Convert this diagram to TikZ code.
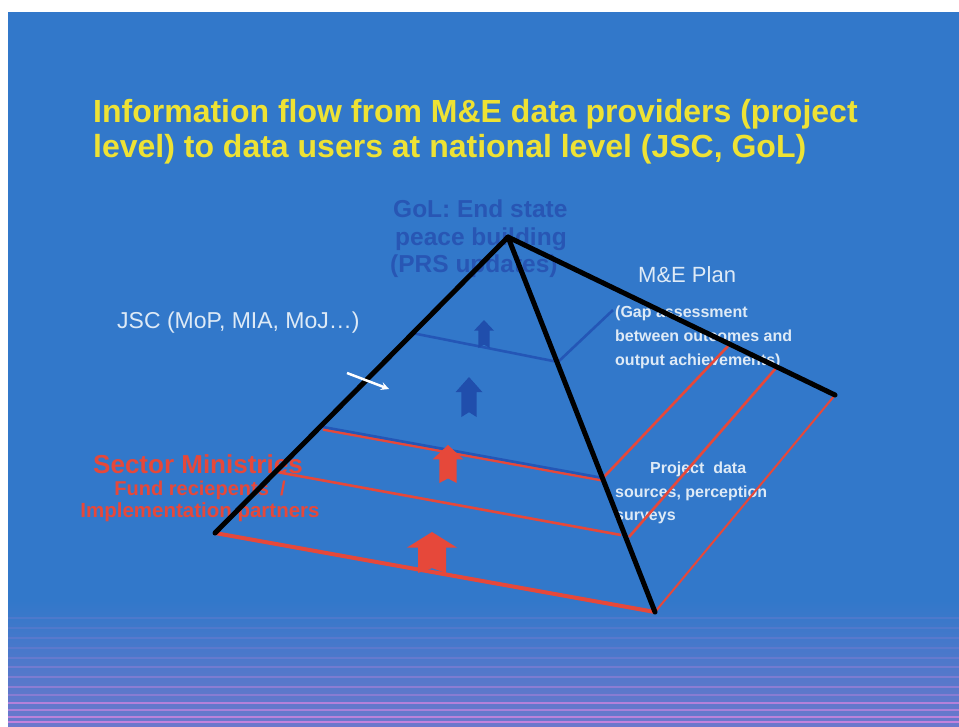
\documentclass[tikz,border=0pt]{standalone}
\usepackage{fontspec}
\setmainfont{Liberation Sans}
\usetikzlibrary{arrows}

\definecolor{slideblue}{RGB}{50,120,202}
\definecolor{slidelow}{RGB}{108,120,204}
\definecolor{stripepink}{RGB}{216,134,224}
\definecolor{lineblue}{RGB}{36,86,182}
\definecolor{arrowblue}{RGB}{32,78,172}
\definecolor{levelred}{RGB}{230,72,58}
\definecolor{titleyellow}{RGB}{238,226,52}
\definecolor{paletext}{RGB}{222,234,246}
\definecolor{goltext}{RGB}{40,86,180}

\tikzset{uparrow/.pic={\fill (-0.28,0) -- (-0.28,-0.62) -- (-0.5,-0.62) -- (0,-1) -- (0.5,-0.62) -- (0.28,-0.62) -- (0.28,0) -- (0,-0.12) -- cycle;}}

\begin{document}
\begin{tikzpicture}[x=1pt,y=-1pt]
\tikzstyle{txt}=[inner sep=0pt,anchor=base west]
\tikzstyle{titletxt}=[txt,titleyellow,font=\bfseries\fontsize{32}{35}\selectfont]
\tikzstyle{goltxt}=[txt,goltext,font=\bfseries\fontsize{24.5}{27}\selectfont]
\tikzstyle{smalltxt}=[txt,paletext,font=\bfseries\fontsize{16}{20}\selectfont]
\tikzstyle{redtxt}=[inner sep=0pt,anchor=base,levelred]
\tikzstyle{edge}=[line width=5pt,black,line cap=round,line join=round]
\tikzstyle{redlevel}=[line width=2.6pt,levelred]
\tikzstyle{bluelevel}=[line width=2.6pt,lineblue]

\useasboundingbox (0,0) rectangle (959,726);
\fill[white] (0,0) rectangle (959,726);
\fill[slideblue] (8,12) rectangle (959,726);
\shade[top color=slideblue,bottom color=slidelow] (8,600) rectangle (959,726);
\foreach \y/\o in {618/.12,628/.12,638/.14,648/.14,658/.18,667/.25,677/.3,687/.4,695/.35,703/.7,710/.6,717/.75,722/.8}
  \draw[stripepink,line width=2pt,opacity=\o] (8,\y)--(959,\y);

% texts
\draw
node[titletxt](t1)at(93,122){Information flow from M\&E data providers (project}
node[titletxt](t2)at(93,157){level) to data users at national level (JSC, GoL)}
node[goltxt](g1)at(393,217){GoL: End state}
node[goltxt](g2)at(395,245){peace building}
node[goltxt](g3)at(390,272){(PRS updates)}
node[txt,paletext,font=\fontsize{22}{24}\selectfont](mep)at(638,282){M\&E Plan}
node[smalltxt](gap1)at(615,317){(Gap assessment}
node[smalltxt](gap2)at(615,341){between outcomes and}
node[smalltxt](gap3)at(615,365){output achievements)}
node[txt,paletext,font=\fontsize{23}{25}\selectfont](jsc)at(117,328){JSC (MoP, MIA, MoJ\dots)}
node[redtxt,font=\bfseries\fontsize{26}{28}\selectfont](sm)at(198,473){Sector Ministries}
node[redtxt,font=\bfseries\fontsize{20}{22}\selectfont](fr)at(200,495){Fund reciepents\ \ /}
node[redtxt,font=\bfseries\fontsize{20.5}{22}\selectfont](ip)at(200,517){Implementation partners}
node[smalltxt](pd1)at(650,473){Project\ \ data}
node[smalltxt](pd2)at(615,497){sources, perception}
node[smalltxt](pd3)at(615,520){surveys};

% pyramid
\coordinate (apex) at (508,237);
\coordinate (lc) at (215,533);
\coordinate (fc) at (655,612);
\coordinate (bc) at (835,395);
\coordinate (l1l) at (277,472);
\coordinate (l1f) at (621,535);
\coordinate (l1s) at (629,537);
\coordinate (l1r) at (776,368);
\coordinate (l2l) at (323,427);
\coordinate (l2f) at (603,478);
\coordinate (l2r) at (730,344);
\coordinate (l3l) at (412,333);
\coordinate (l3f) at (558,362);
\coordinate (l3r) at (613,310);

\draw[bluelevel](l3l)--(l3f)--(l3r);
\draw[redlevel]([yshift=-2.5pt]l2l)--([yshift=-2.5pt]l2f);
\draw[bluelevel](l2l)--(l2f);
\draw[redlevel](l2f)--(l2r);
\draw[redlevel](l1l)--(l1f);
\draw[redlevel](l1s)--(l1r);
\draw[line width=4pt,levelred](lc)--(fc);
\draw[line width=2pt,levelred](fc)--(bc);
\draw[edge](lc)--(apex)--(fc);
\draw[edge](apex)--(bc);

% flow arrows
\pic[fill=levelred,xscale=50,yscale=41] at (432,573) {uparrow};
\pic[fill=levelred,xscale=31,yscale=38] at (448,483) {uparrow};
\pic[fill=arrowblue,xscale=27,yscale=40] at (469,417) {uparrow};
\pic[fill=arrowblue,xscale=20,yscale=28] at (484,348) {uparrow};
\coordinate (ws) at (347,373);
\coordinate (we) at (389,389);
\draw[->,>=stealth,white,line width=2.5pt](ws)--(we);
\end{tikzpicture}
\end{document}
